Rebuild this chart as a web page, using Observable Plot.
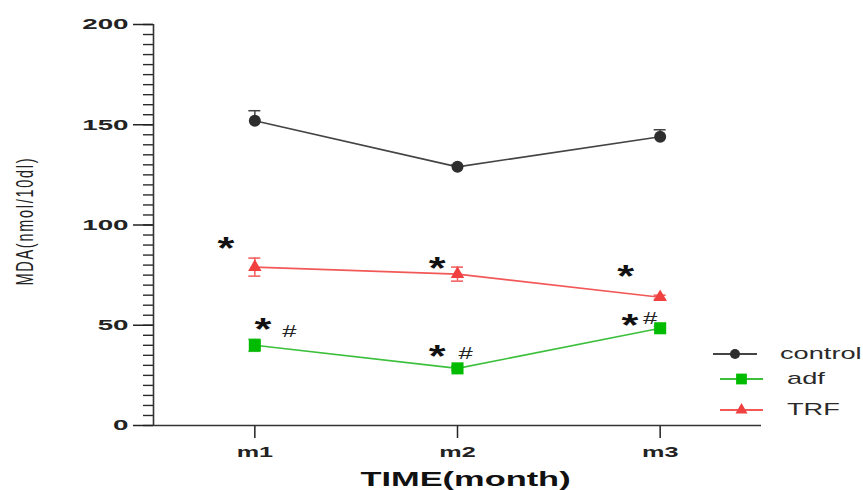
<!DOCTYPE html>
<html><head><meta charset="utf-8">
<script src="https://cdn.jsdelivr.net/npm/d3@7"></script>
<script src="https://cdn.jsdelivr.net/npm/@observablehq/plot@0.6"></script>
<style>
body{margin:0;background:#fff;}
#wrap{position:relative;width:863px;height:490px;font-family:"Liberation Sans",Arial,sans-serif;overflow:hidden;}
#legend .sw{position:absolute;}
#legend .lt{position:absolute;font-size:17px;line-height:20px;color:#2a2a2a;transform:scaleX(1.6);transform-origin:0 50%;white-space:nowrap;}
</style></head>
<body><div id="wrap"><div id="chart"></div><div id="legend"></div></div>
<script>
// ---- data ----
const months = ["m1", "m2", "m3"];
const seriesNames = ["control", "adf", "TRF"];
const controlMean = [152, 129, 144];
const controlSemUp = [5, 1, 3.5];
const controlSemDown = [0, 0, 0];
const adfMean = [40, 28.5, 48.5];
const adfSemUp = [3, 1, 1];
const adfSemDown = [3, 1, 1];
const trfMean = [79, 75.5, 64];
const trfSemUp = [4.5, 3.5, 1];
const trfSemDown = [4.5, 3.5, 1];
const yTicks = [0, 50, 100, 150, 200];
// significance marks: text, x (month position), y (MDA units)
const noteText = ["*", "*", "*", "*", "#", "*", "#", "*", "#"];
const noteX = [0.857, 1.90, 2.83, 1.04, 1.17, 1.90, 2.04, 2.85, 2.95];
const noteY = [90.8, 80.8, 76.8, 50.4, 46.9, 36.9, 35.9, 52.4, 53.4];

// ---- styles ----
const lineColors = {control: "#444444", adf: "#3cc03c", TRF: "#f25858"};
const markColors = {control: "#2e2e2e", adf: "#00bb00", TRF: "#f04040"};
const markSymbols = {control: "circle", adf: "square", TRF: "triangle"};
const markR = {control: 6, adf: 6.8, TRF: 5};

const means = {control: controlMean, adf: adfMean, TRF: trfMean};
const semUp = {control: controlSemUp, adf: adfSemUp, TRF: trfSemUp};
const semDown = {control: controlSemDown, adf: adfSemDown, TRF: trfSemDown};
const rows = seriesNames.flatMap(s => months.map((m, i) => ({
  series: s, month: i + 1, mean: means[s][i],
  lo: means[s][i] - semDown[s][i], hi: means[s][i] + semUp[s][i], hasLo: semDown[s][i] > 0
})));
const notes = noteText.map((t, i) => ({t, x: noteX[i], y: noteY[i]}));
const minorTicks = d3.range(0, 201, 5);

const marks = [];
// axes
marks.push(Plot.axisY({ticks: minorTicks, tickSize: 10, tickFormat: () => "", color: "#2a2a2a", strokeWidth: 1.4, label: null}));
marks.push(Plot.axisY({ticks: yTicks, tickSize: 20, tickPadding: 5, color: "#222", strokeWidth: 1.5, fontSize: 15, fontWeight: "bold", label: null}));
marks.push(Plot.axisX({ticks: [1, 2, 3], tickFormat: d => months[d - 1], tickSize: 13, tickPadding: 9, color: "#222", strokeWidth: 1.5, fontSize: 14, fontWeight: "bold", label: null}));
marks.push(Plot.ruleX([0.5], {stroke: "#333", strokeWidth: 1.6}));
marks.push(Plot.ruleY([0], {stroke: "#333", strokeWidth: 1.6}));
// series
for (const s of seriesNames) {
  const d = rows.filter(r => r.series === s);
  marks.push(Plot.ruleX(d, {x: "month", y1: "lo", y2: "hi", stroke: lineColors[s], strokeWidth: 1.5}));
  marks.push(Plot.ruleY(d, {x1: "month", x2: "month", y: "hi", insetLeft: -6, insetRight: -6, stroke: lineColors[s], strokeWidth: 1.5}));
  marks.push(Plot.ruleY(d.filter(r => r.hasLo), {x1: "month", x2: "month", y: "lo", insetLeft: -6, insetRight: -6, stroke: lineColors[s], strokeWidth: 1.5}));
  marks.push(Plot.lineY(d, {x: "month", y: "mean", stroke: lineColors[s], strokeWidth: 1.6}));
  marks.push(Plot.dot(d, {x: "month", y: "mean", fill: markColors[s], stroke: "none", symbol: markSymbols[s], r: markR[s]}));
}
// annotations
marks.push(Plot.text(notes.filter(n => n.t === "*"), {x: "x", y: "y", text: "t", fontSize: 32, fontWeight: "bold", fill: "#111", dy: 5}));
marks.push(Plot.text(notes.filter(n => n.t === "#"), {x: "x", y: "y", text: "t", fontSize: 16, fill: "#222"}));
// titles
marks.push(Plot.text(["TIME(month)"], {frameAnchor: "bottom", dx: 8, dy: 60, fontSize: 20, fontWeight: "bold", fill: "#111"}));
marks.push(Plot.text(["MDA(nmol/10dl)"], {frameAnchor: "left", textAnchor: "middle", dx: -128, dy: -3, rotate: -90, fontSize: 14.5, fill: "#222"}));

const svg = Plot.plot({
  width: 863, height: 490,
  marginLeft: 153, marginRight: 102, marginTop: 24, marginBottom: 65,
  style: {fontFamily: "Liberation Sans, Arial, sans-serif", background: "white"},
  x: {type: "linear", domain: [0.5, 3.5], axis: null},
  y: {domain: [0, 200], axis: null},
  marks
});
document.getElementById("chart").append(svg);

// horizontal stretch of glyphs, as in the reference picture
const stretchByGroup = {"y-axis tick label": 1.85, "x-axis tick label": 1.8};
const stretchByText = {"TIME(month)": 1.72, "*": 1.35, "#": 1.6};
d3.select(svg).selectAll("text").each(function () {
  const txt = this.textContent;
  if (!txt) return;
  const g = this.closest("g[aria-label]");
  const k = stretchByText[txt] || (g && stretchByGroup[g.getAttribute("aria-label")]);
  if (txt === "MDA(nmol/10dl)") {
    this.setAttribute("textLength", 127);
    this.setAttribute("lengthAdjust", "spacing");
    const el = this.getAttribute("transform") ? this : this.parentNode;
    el.setAttribute("transform", (el.getAttribute("transform") || "") + " scale(1,1.6)");
    return;
  }
  if (!k) return;
  const len = this.getComputedTextLength();
  this.setAttribute("textLength", len * k);
  this.setAttribute("lengthAdjust", "spacingAndGlyphs");
});

// legend
const legendLayout = {
  control: {cy: 354, left: 713, w: 44, textLeft: 780},
  adf: {cy: 379, left: 720, w: 43, textLeft: 787},
  TRF: {cy: 410, left: 720, w: 43, textLeft: 787}
};
const legend = document.getElementById("legend");
for (const s of seriesNames) {
  const L = legendLayout[s];
  const sw = d3.create("svg").attr("class", "sw").attr("width", L.w).attr("height", 20)
    .style("left", L.left + "px").style("top", (L.cy - 10) + "px");
  sw.append("line").attr("x1", 0).attr("x2", L.w).attr("y1", 10).attr("y2", 10)
    .attr("stroke", lineColors[s]).attr("stroke-width", 2);
  const sym = d3.symbol(s === "control" ? d3.symbolCircle : s === "adf" ? d3.symbolSquare : d3.symbolTriangle,
    Math.PI * markR[s] * markR[s] * (s === "control" ? 0.7 : 0.8));
  sw.append("path").attr("d", sym()).attr("transform", `translate(${L.w / 2},10)`).attr("fill", markColors[s]);
  legend.append(sw.node());
  const tx = document.createElement("div");
  tx.className = "lt";
  tx.textContent = s;
  tx.style.left = L.textLeft + "px";
  tx.style.top = (L.cy - 10) + "px";
  legend.append(tx);
}
</script></body></html>
